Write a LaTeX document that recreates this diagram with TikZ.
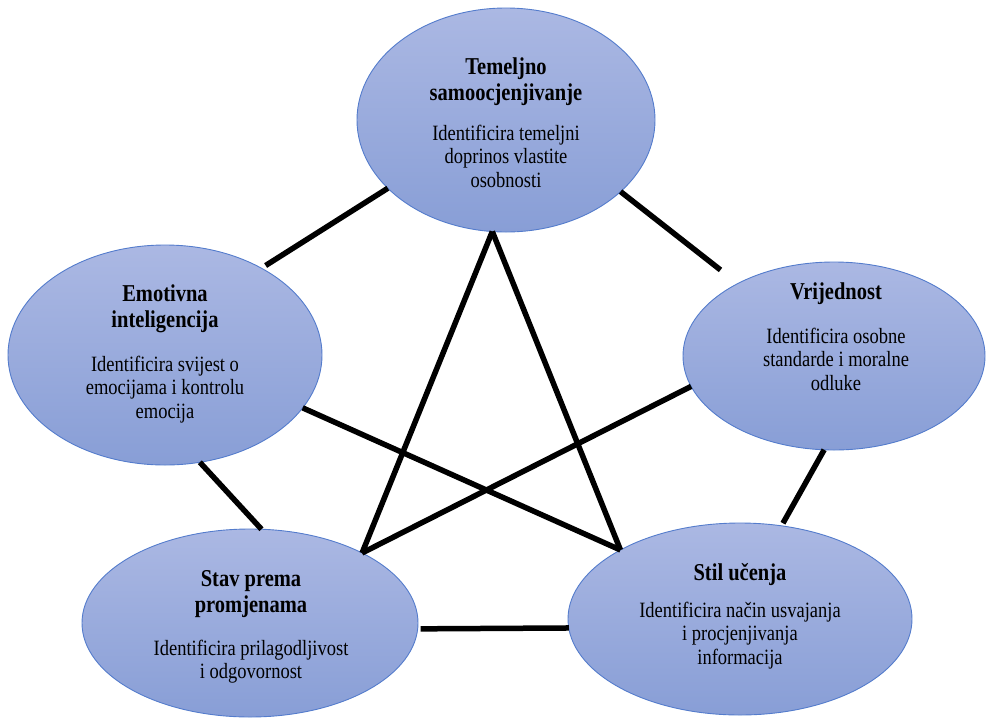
\documentclass[tikz,border=0pt]{standalone}
\usepackage{fontspec}
\usepackage{graphicx}
\setmainfont{Liberation Serif}
\usetikzlibrary{shapes.geometric}
\definecolor{ellTop}{RGB}{171,184,227}
\definecolor{ellBot}{RGB}{136,158,214}
\definecolor{ellBorder}{RGB}{84,124,204}
\newcommand{\stretchtxt}[1]{\scalebox{1}[1.18]{\begin{tabular}{@{}c@{}}#1\end{tabular}}}
\tikzset{
  ell/.style={ellipse, draw=ellBorder, line width=0.9pt, top color=ellTop, bottom color=ellBot,
              inner sep=0pt, outer sep=0pt},
  ttl/.style={inner sep=0pt, font=\fontsize{20.5}{22}\selectfont\bfseries},
  bdy/.style={inner sep=0pt, font=\fontsize{18.5}{19.8}\selectfont},
  conn/.style={line width=5.5pt, black}
}
\begin{document}
\begin{tikzpicture}[x=1pt,y=-1pt]
\useasboundingbox (0,0) rectangle (987,718);
% ellipses
\node[ell, minimum width=298pt, minimum height=224pt] (T) at (506,120) {};
\node[ell, minimum width=314pt, minimum height=220pt] (E) at (165,355) {};
\node[ell, minimum width=302pt, minimum height=188pt] (V) at (834,356) {};
\node[ell, minimum width=336pt, minimum height=188pt] (St) at (250,623) {};
\node[ell, minimum width=344pt, minimum height=192pt] (Si) at (740,619) {};
% texts
\node[ttl] (Tt) at (506,82) {\stretchtxt{Temeljno\\samoocjenjivanje}};
\node[bdy] (Tb) at (506,159) {\stretchtxt{Identificira temeljni\\doprinos vlastite\\osobnosti}};
\node[ttl] (Et) at (165,309) {\stretchtxt{Emotivna\\inteligencija}};
\node[bdy] (Eb) at (165,390) {\stretchtxt{Identificira svijest o\\emocijama i kontrolu\\emocija}};
\node[ttl] (Vt) at (836,294) {\stretchtxt{Vrijednost}};
\node[bdy] (Vb) at (836,362) {\stretchtxt{Identificira osobne\\standarde i moralne\\odluke}};
\node[ttl] (Stt) at (251,594) {\stretchtxt{Stav prema\\promjenama}};
\node[bdy] (Stb) at (251,662) {\stretchtxt{Identificira prilagodljivost\\i odgovornost}};
\node[ttl] (Sit) at (740,575) {\stretchtxt{Stil učenja}};
\node[bdy] (Sib) at (740,636) {\stretchtxt{Identificira način usvajanja\\i procjenjivanja\\informacija}};
% connectors
\draw[conn, shorten >=5pt] (T.210) -- (E.42);
\draw[conn, shorten >=22pt] (T.328) -- (V.143);
\draw[conn] (T.263) -- (St.32);
\draw[conn] (T.263) -- (Si.150);
\draw[conn] (E.339) -- (Si.150);
\draw[conn] (V.192) -- (St.32);
\draw[conn] (E.288) -- (St.83);
\draw[conn, shorten >=3pt] (V.264) -- (Si.66);
\draw[conn, shorten <=3pt] (St.358) -- (Si.183);
\end{tikzpicture}
\end{document}
